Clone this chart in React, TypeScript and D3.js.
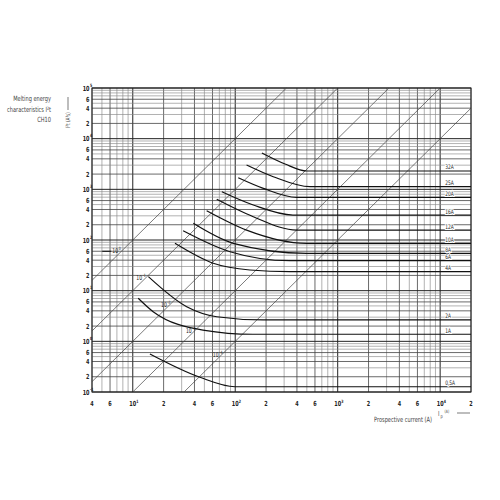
import * as d3 from 'd3';
import React from 'react';

// Axis domains: prospective current (A) and melting energy I²t (A²s)
const xDomain = [4, 20000];
const yDomain = [0.1, 100000];

const xTickValues = [4, 6, 10, 20, 40, 60, 100, 200, 400, 600, 1000, 2000, 4000, 6000, 10000, 20000];
const yTickValues = [
  0.1, 0.2, 0.4, 0.6, 1, 2, 4, 6, 10, 20, 40, 60, 100, 200, 400, 600, 1000, 2000, 4000, 6000, 10000,
  20000, 40000, 60000, 100000,
];

// Fuse ratings with their melting I²t curves
const fuseRatings = ['32A', '25A', '20A', '16A', '12A', '10A', '8A', '6A', '4A', '2A', '1A', '0,5A'];
const fuseCurrents = [
  [182, 306, 502],
  [129, 235, 537],
  [107, 188, 398],
  [74, 150, 366],
  [66, 150, 398],
  [52.6, 129, 498],
  [39, 95.7, 498],
  [31, 88.9, 342],
  [25.8, 61, 139, 342],
  [14.2, 33.6, 66, 187],
  [11.3, 15.8, 48.4, 149],
  [14.7, 45.3, 99.5],
];
const fuseEnergy = [
  [5212, 3162, 2301],
  [3020, 1775, 1127],
  [1695, 1047, 696],
  [898, 491, 311],
  [635, 288, 157],
  [378, 157, 86],
  [213, 86, 54.6],
  [152, 58.7, 39],
  [86, 34.7, 25.6, 23.7],
  [18.9, 4.82, 3.06, 2.64],
  [7.07, 3.85, 1.67, 1.38],
  [0.562, 0.195, 0.127],
];

// Constant melting-time lines (s): I²t = I² · t
const timeValues = [1, 0.1, 0.01, 0.001, 0.0001];
const timeExponents = ['0', '-1', '-2', '-3', '-4'];
const timeLabelCurrent = [6.9, 11.8, 20.6, 36, 66];

const FONT = '"Liberation Sans Narrow", "DejaVu Sans Condensed", "Liberation Sans", sans-serif';
const NARROW = 0.78;

const x = d3.scaleLog().domain(xDomain).range([92, 471]);
const y = d3.scaleLog().domain(yDomain).range([392, 88]);

const isDecade = (v: number) => Math.abs(Math.log10(v) - Math.round(Math.log10(v))) < 1e-9;
const leading = (v: number) => Math.round(v / Math.pow(10, Math.floor(Math.log10(v) + 1e-9)));

// condensed text, drawn at (tx, ty)
const Narrow = ({
  tx,
  ty,
  children,
  ...rest
}: { tx: number; ty: number; children: React.ReactNode } & React.SVGProps<SVGTextElement>) => (
  <text transform={`translate(${tx},${ty}) scale(${NARROW},1)`} {...rest}>
    {children}
  </text>
);

const App = () => {
  const xLabelSet = new Set(xTickValues.map(leading));
  const yLabelSet = new Set(yTickValues.map(leading));

  const line = d3
    .line<[number, number]>()
    .x((d) => x(d[0]))
    .y((d) => y(d[1]))
    .curve(d3.curveMonotoneX);

  return (
    <svg
      width={500}
      height={500}
      style={{ position: 'absolute', left: 0, top: 0, background: '#fff' }}
      fontFamily={FONT}
    >
      {/* vertical grid */}
      {x.ticks().map((v, i) => {
        const dec = isDecade(v);
        const lab = xLabelSet.has(leading(v));
        return (
          <line
            key={`vx${i}`}
            x1={x(v)}
            x2={x(v)}
            y1={y(yDomain[1])}
            y2={y(yDomain[0])}
            stroke={dec ? '#222' : lab ? '#444' : '#888'}
            strokeWidth={dec ? 1 : lab ? 0.8 : 0.65}
          />
        );
      })}
      {/* horizontal grid */}
      {y.ticks().map((v, i) => {
        const dec = isDecade(v);
        const lab = yLabelSet.has(leading(v));
        return (
          <line
            key={`hy${i}`}
            x1={x(xDomain[0])}
            x2={x(xDomain[1])}
            y1={y(v)}
            y2={y(v)}
            stroke={dec ? '#222' : lab ? '#444' : '#888'}
            strokeWidth={dec ? 1 : lab ? 0.8 : 0.65}
          />
        );
      })}
      <rect
        x={x(xDomain[0])}
        y={y(yDomain[1])}
        width={x(xDomain[1]) - x(xDomain[0])}
        height={y(yDomain[0]) - y(yDomain[1])}
        fill="none"
        stroke="#222"
        strokeWidth={1}
      />

      {/* constant-time diagonals */}
      {timeValues.map((t, i) => {
        const i0 = Math.max(xDomain[0], Math.sqrt(yDomain[0] / t));
        const i1 = Math.min(xDomain[1], Math.sqrt(yDomain[1] / t));
        return (
          <line
            key={`t${i}`}
            x1={x(i0)}
            y1={y(i0 * i0 * t)}
            x2={x(i1)}
            y2={y(i1 * i1 * t)}
            stroke="#444"
            strokeWidth={0.7}
          />
        );
      })}
      {timeValues.map((t, i) => {
        const cx = x(timeLabelCurrent[i]);
        const cy = y(timeLabelCurrent[i] * timeLabelCurrent[i] * t) - 3;
        return (
          <g key={`tl${i}`} fill="#222">
            {i === 0 && (
              <line x1={cx - 14} x2={cx - 5} y1={cy - 2} y2={cy - 2} stroke="#222" strokeWidth={1.2} />
            )}
            <Narrow tx={cx - 1} ty={cy} fontSize={6.5} textAnchor="middle">
              10
            </Narrow>
            <Narrow tx={cx + 2.5} ty={cy - 3} fontSize={4.5}>
              {timeExponents[i]}
            </Narrow>
          </g>
        );
      })}

      {/* fuse melting curves */}
      {fuseRatings.map((r, i) => {
        const pts: [number, number][] = fuseCurrents[i].map((c, j) => [c, fuseEnergy[i][j]]);
        const last = fuseEnergy[i][fuseEnergy[i].length - 1];
        pts.push([xDomain[1], last]);
        return (
          <path key={`f${i}`} d={line(pts) || ''} fill="none" stroke="#111" strokeWidth={1.2} />
        );
      })}
      {fuseRatings.map((r, i) => {
        const last = fuseEnergy[i][fuseEnergy[i].length - 1];
        return (
          <Narrow
            key={`fl${i}`}
            tx={x(11200)}
            ty={y(last) - 1.5}
            fontSize={6.2}
            fill="#222"
            stroke="#fff"
            strokeWidth={2}
            paintOrder="stroke"
          >
            {r}
          </Narrow>
        );
      })}

      {/* x tick labels */}
      {xTickValues.map((v, i) =>
        isDecade(v) ? (
          <g key={`xl${i}`} fill="#222" fontWeight="bold">
            <Narrow tx={x(v)} ty={406} fontSize={7} textAnchor="middle">
              10
            </Narrow>
            <Narrow tx={x(v) + 3.5} ty={403} fontSize={4.5}>
              {Math.round(Math.log10(v))}
            </Narrow>
          </g>
        ) : (
          <Narrow key={`xl${i}`} tx={x(v)} ty={406} fontSize={7} textAnchor="middle" fill="#222" fontWeight="bold">
            {leading(v)}
          </Narrow>
        ),
      )}
      {/* y tick labels */}
      {yTickValues.map((v, i) =>
        isDecade(v) ? (
          <g key={`yl${i}`} fill="#222" fontWeight="bold">
            <Narrow tx={89.5} ty={y(v) + 2.5} fontSize={7} textAnchor="end">
              10
            </Narrow>
            <Narrow tx={90} ty={y(v) - 1.5} fontSize={4.5}>
              {Math.round(Math.log10(v))}
            </Narrow>
          </g>
        ) : (
          <Narrow
            key={`yl${i}`}
            tx={89.5}
            ty={y(v) + 2.5}
            fontSize={7}
            textAnchor="end"
            fill="#222"
            fontWeight="bold"
          >
            {leading(v)}
          </Narrow>
        ),
      )}

      {/* titles */}
      <g fontSize={7.2} fill="#444" textAnchor="end">
        <Narrow tx={51} ty={100.5}>
          Melting energy
        </Narrow>
        <Narrow tx={51} ty={111.5}>
          characteristics I²t
        </Narrow>
        <Narrow tx={51} ty={122}>
          CH10
        </Narrow>
      </g>
      <g transform="translate(70,128) rotate(-90)" fill="#444">
        <Narrow tx={0} ty={0} fontSize={6}>
          I²t (A²s)
        </Narrow>
        <line x1={18} x2={31} y1={-2} y2={-2} stroke="#444" strokeWidth={0.7} />
      </g>
      <Narrow tx={403} ty={422} fontSize={7.2} fill="#444" textAnchor="middle">
        Prospective current (A)
      </Narrow>
      <g fill="#444">
        <Narrow tx={438} ty={416} fontSize={7}>
          I
        </Narrow>
        <Narrow tx={440.5} ty={418} fontSize={5}>
          p
        </Narrow>
        <Narrow tx={444.5} ty={413} fontSize={4.5}>
          (A)
        </Narrow>
        <line x1={457} x2={470} y1={413} y2={413} stroke="#444" strokeWidth={0.7} />
      </g>
    </svg>
  );
};

export default App;
